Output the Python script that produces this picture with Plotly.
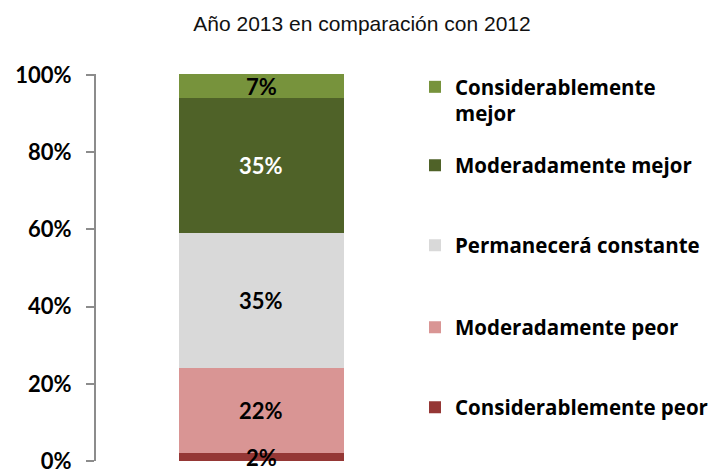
import plotly.graph_objects as go

# Survey outlook for 2013 vs 2012, stacked from worst to best
categories = ["2013"]
series_names = [
    "Considerablemente peor",
    "Moderadamente peor",
    "Permanecerá constante",
    "Moderadamente mejor",
    "Considerablemente<br>mejor",
]
series_values = [2, 22, 35, 35, 7]
series_colors = ["#953735", "#D99594", "#D9D9D9", "#4F6228", "#77933C"]
label_colors = ["black", "black", "black", "white", "black"]
tick_values = [0, 20, 40, 60, 80, 100]
tick_labels = ["0%", "20%", "40%", "60%", "80%", "100%"]

Y_MAX = 100.3
BOLD = "Lato"

fig = go.Figure()

# each series gets its own legend box so entries can be spaced freely
legend_ids = ["legend5", "legend4", "legend3", "legend2", "legend"]
for name, val, col, lid in zip(series_names, series_values, series_colors, legend_ids):
    fig.add_trace(go.Bar(
        x=categories, y=[val], name=name, marker_color=col,
        marker_line_width=0, legend=lid, hoverinfo="skip",
    ))

# value labels centred on the visible part of each segment
annotations = []
base = 0
for val, lc in zip(series_values, label_colors):
    top = base + val
    mid = (base + min(top, Y_MAX)) / 2
    annotations.append(dict(
        x=0, y=mid, xref="x", yref="y", text=f"{val}%",
        showarrow=False, font=dict(family=BOLD, size=22, color=lc, weight="bold"),
    ))
    base = top

H_TOP, H_BOT = 74, 9
plot_h = 470 - H_TOP - H_BOT


def ypaper(py):
    return (470 - H_BOT - py) / plot_h


legend_font = dict(family="Open Sans", size=20.5, color="black", weight="bold")
common = dict(x=1 - 11 / 330, xanchor="left", bgcolor="rgba(0,0,0,0)",
              font=legend_font, itemwidth=30, borderwidth=0)

fig.update_layout(
    width=724, height=470,
    margin=dict(l=96, r=298, t=H_TOP, b=H_BOT, autoexpand=False),
    paper_bgcolor="white", plot_bgcolor="white",
    title=dict(
        text="Año 2013 en comparación con 2012",
        x=0.5, xref="container", xanchor="center",
        y=1 - 24 / 470, yref="container", yanchor="middle",
        font=dict(family="Liberation Sans, Arial", size=21, color="#111"),
    ),
    barmode="stack", bargap=0.5,
    showlegend=True,
    legend=dict(**common, y=ypaper(67), yanchor="top", valign="top"),
    legend2=dict(**common, y=ypaper(165.5), yanchor="middle"),
    legend3=dict(**common, y=ypaper(245.5), yanchor="middle"),
    legend4=dict(**common, y=ypaper(327.5), yanchor="middle"),
    legend5=dict(**common, y=ypaper(407.5), yanchor="middle"),
    xaxis=dict(visible=False, type="category", range=[-0.5, 0.5]),
    yaxis=dict(
        range=[0, Y_MAX], tickvals=tick_values, ticktext=tick_labels,
        showgrid=False, zeroline=False, showline=True, linecolor="#8C8C8C",
        linewidth=2, ticks="outside", ticklen=8, tickwidth=2, tickcolor="#8C8C8C",
        tickfont=dict(family=BOLD, size=22, color="black", weight="bold"),
        ticklabelstandoff=10, ticklabeloverflow="allow", automargin=False,
    ),
    annotations=annotations,
)

fig.write_html("out.html")
